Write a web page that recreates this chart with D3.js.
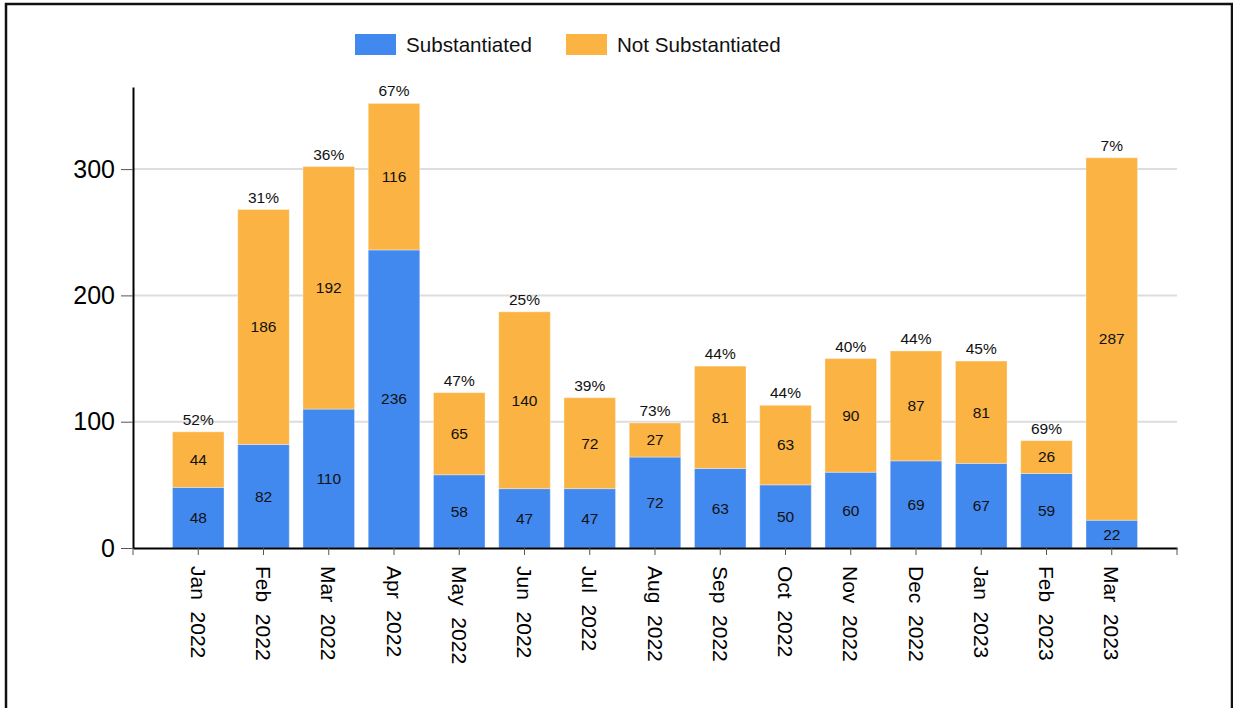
<!DOCTYPE html>
<html>
<head>
<meta charset="utf-8">
<script src="https://cdn.jsdelivr.net/npm/d3@7"></script>
<style>
  body { margin: 0; background: #fff; }
  svg { display: block; font-family: "Liberation Sans", Arial, sans-serif; }
</style>
</head>
<body>
<script>
const months = ['Jan  2022', 'Feb  2022', 'Mar  2022', 'Apr  2022', 'May  2022', 'Jun  2022',
  'Jul  2022', 'Aug  2022', 'Sep  2022', 'Oct  2022', 'Nov  2022', 'Dec  2022',
  'Jan  2023', 'Feb  2023', 'Mar  2023'];
const substantiated = [48, 82, 110, 236, 58, 47, 47, 72, 63, 50, 60, 69, 67, 59, 22];
const notSubstantiated = [44, 186, 192, 116, 65, 140, 72, 27, 81, 63, 90, 87, 81, 26, 287];
const pctLabels = ['52%', '31%', '36%', '67%', '47%', '25%', '39%', '73%', '44%', '44%', '40%', '44%', '45%', '69%', '7%'];
const yTicks = [0, 100, 200, 300];
const seriesNames = ['Substantiated', 'Not Substantiated'];
const colors = ['#4289ef', '#fbb343'];

const W = 1233;
const H = 708;

const svg = d3.select('body')
  .append('svg')
  .attr('width', W)
  .attr('height', H);

// frame
svg.append('rect')
  .attr('x', 6)
  .attr('y', 4)
  .attr('width', 1226)
  .attr('height', 720)
  .style('fill', 'none')
  .style('stroke', '#111')
  .style('stroke-width', 2.5);

const xScale = d3.scaleBand()
  .domain(months)
  .range([133, 1177])
  .paddingInner(0.21)
  .paddingOuter(0.605);

const yScale = d3.scaleLinear()
  .domain([0, 365])
  .range([548, 87]);

// grid
svg.append('g')
  .selectAll('line')
  .data(yTicks.filter(d => d > 0))
  .join('line')
  .attr('x1', xScale.range()[0])
  .attr('x2', xScale.range()[1])
  .attr('y1', d => yScale(d))
  .attr('y2', d => yScale(d))
  .style('stroke', '#dddddd')
  .style('stroke-width', 2);

const rows = months.map((m, i) => ({ month: m, s: substantiated[i], n: notSubstantiated[i], pct: pctLabels[i] }));

const bars = svg.append('g');

// substantiated segments
bars.selectAll('rect.s')
  .data(rows)
  .join('rect')
  .attr('class', 's')
  .attr('x', d => xScale(d.month))
  .attr('width', xScale.bandwidth())
  .attr('y', d => yScale(d.s))
  .attr('height', d => yScale(0) - yScale(d.s))
  .style('fill', colors[0])
  .style('stroke', 'rgba(255,255,255,0.35)')
  .style('stroke-width', 1);

// not substantiated segments
bars.selectAll('rect.n')
  .data(rows)
  .join('rect')
  .attr('class', 'n')
  .attr('x', d => xScale(d.month))
  .attr('width', xScale.bandwidth())
  .attr('y', d => yScale(d.s + d.n))
  .attr('height', d => yScale(d.s) - yScale(d.s + d.n))
  .style('fill', colors[1])
  .style('stroke', 'rgba(255,255,255,0.35)')
  .style('stroke-width', 1);

const cx = d => xScale(d.month) + xScale.bandwidth() / 2;

const labels = svg.append('g')
  .style('font-size', '15.5px')
  .style('fill', '#111')
  .attr('text-anchor', 'middle');

labels.selectAll('text.sv')
  .data(rows)
  .join('text')
  .attr('class', 'sv')
  .attr('x', cx)
  .attr('y', d => (yScale(0) + yScale(d.s)) / 2)
  .attr('dy', '0.35em')
  .text(d => d.s);

labels.selectAll('text.nv')
  .data(rows)
  .join('text')
  .attr('class', 'nv')
  .attr('x', cx)
  .attr('y', d => (yScale(d.s) + yScale(d.s + d.n)) / 2)
  .attr('dy', '0.35em')
  .text(d => d.n);

labels.selectAll('text.pct')
  .data(rows)
  .join('text')
  .attr('class', 'pct')
  .attr('x', cx)
  .attr('y', d => yScale(d.s + d.n) - 7)
  .text(d => d.pct);

// y axis
const yAxis = d3.axisLeft(yScale)
  .tickValues(yTicks)
  .tickSize(12)
  .tickSizeOuter(0)
  .tickPadding(6);

const gy = svg.append('g')
  .attr('transform', `translate(${xScale.range()[0]},0)`)
  .call(yAxis);
gy.select('.domain').style('stroke', '#000').style('stroke-width', 2);
gy.selectAll('.tick line').style('stroke', '#555');
gy.selectAll('.tick text')
  .style('font-size', '25px')
  .style('font-family', '"Liberation Sans", Arial, sans-serif')
  .style('fill', '#000');

// x axis
const xAxis = d3.axisBottom(xScale)
  .tickSize(7)
  .tickSizeOuter(0);

const gx = svg.append('g')
  .attr('transform', `translate(0,${yScale(0)})`)
  .call(xAxis);
gx.select('.domain').style('stroke', '#000').style('stroke-width', 2);
gx.selectAll('.tick line').style('stroke', '#555');
gx.selectAll('.tick text')
  .attr('transform', 'rotate(90)')
  .attr('x', 18)
  .attr('y', 0)
  .attr('dy', '0.35em')
  .attr('text-anchor', 'start')
  .style('white-space', 'pre')
  .style('font-size', '21px')
  .style('font-family', '"Liberation Sans", Arial, sans-serif')
  .style('fill', '#000');

// end ticks on x axis
gx.selectAll('line.end')
  .data(xScale.range())
  .join('line')
  .attr('class', 'end')
  .attr('x1', d => d)
  .attr('x2', d => d)
  .attr('y1', 0)
  .attr('y2', 7)
  .style('stroke', '#555');

// legend
const legendX = [355, 566];
const legend = svg.append('g')
  .selectAll('g')
  .data(seriesNames)
  .join('g')
  .attr('transform', (d, i) => `translate(${legendX[i]},34)`);

legend.append('rect')
  .attr('width', 41)
  .attr('height', 21)
  .style('fill', (d, i) => colors[i]);

legend.append('text')
  .attr('x', 51)
  .attr('y', 11)
  .attr('dy', '0.35em')
  .style('font-size', '20.6px')
  .style('fill', '#111')
  .text(d => d);
</script>
</body>
</html>
